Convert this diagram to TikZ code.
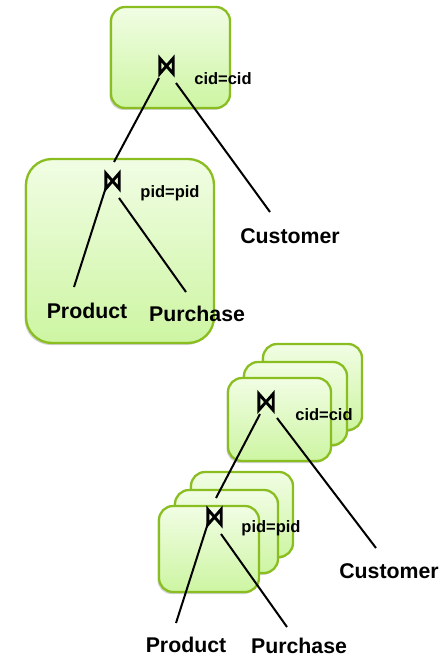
\documentclass[tikz,border=0pt]{standalone}
\usepackage{fontspec}
\setmainfont{Liberation Sans}
\usetikzlibrary{shadows}
\definecolor{boxborder}{RGB}{138,190,32}
\definecolor{boxtop}{RGB}{241,253,228}
\definecolor{boxbottom}{RGB}{205,245,162}
\tikzset{
  box/.style={draw=boxborder, line width=2.3pt, rounded corners=14pt,
    top color=boxtop, bottom color=boxbottom,
    drop shadow={shadow xshift=-1.5pt, shadow yshift=-2pt, opacity=0.18, fill=black}},
  bigbox/.style={box, rounded corners=26pt},
  jn/.style={inner sep=0pt, minimum width=13pt, minimum height=15pt},
  bowtie/.style={line width=2.9pt, line join=miter, black},
  rel/.style={font=\bfseries\fontsize{21.3}{25}\selectfont, inner sep=0pt},
  cond/.style={font=\bfseries\fontsize{16.5}{19}\selectfont, inner sep=0pt},
  edge/.style={line width=2pt, black}
}
\newcommand{\drawjoin}[1]{\draw[bowtie] (#1.north west) -- (#1.south west) -- (#1.north east) -- (#1.south east) -- cycle;}
\begin{document}
\begin{tikzpicture}[x=1pt,y=-1pt]
\useasboundingbox (0,0) rectangle (447,658);
% plan 1
\path[box] (111,7) rectangle (230,108);
\path[bigbox] (26,159) rectangle (214,343);
% plan 2 stacks
\path[box] (263,344) rectangle (362,430);
\path[box] (244,362) rectangle (347,445);
\path[box] (228,378) rectangle (331,461);
\path[box] (191,472) rectangle (293,557);
\path[box] (175,490) rectangle (278,573);
\path[box] (159,506) rectangle (259,592);

% plan 1 nodes
\node[jn] (j1) at (166.5,66) {};
\node[jn] (j2) at (112.5,181) {};
\node[cond] (c1) at (223,79) {cid=cid};
\node[cond] (c2) at (170,193) {pid=pid};
\node[rel] (cust1) at (290,236) {Customer};
\node[rel] (prod1) at (87,311) {Product};
\node[rel] (purc1) at (197,314) {Purchase};
% plan 2 nodes
\node[jn, minimum width=14pt, minimum height=16pt] (j3) at (266,402) {};
\node[jn] (j4) at (214.5,517) {};
\node[cond] (c3) at (324,415) {cid=cid};
\node[cond] (c4) at (271,528) {pid=pid};
\node[rel] (cust2) at (389,571) {Customer};
\node[rel] (prod2) at (186,645) {Product};
\node[rel] (purc2) at (299,646) {Purchase};

% edge endpoints
\coordinate (e1a) at (159,78);  \coordinate (e1b) at (114,162);
\coordinate (e2a) at (176,83);  \coordinate (e2b) at (270,212);
\coordinate (e3a) at (106,187); \coordinate (e3b) at (74,287);
\coordinate (e4a) at (119,198); \coordinate (e4b) at (186,292);
\coordinate (e5a) at (260,414); \coordinate (e5b) at (216,498);
\coordinate (e6a) at (277,418); \coordinate (e6b) at (376,548);
\coordinate (e7a) at (208,523); \coordinate (e7b) at (176,623);
\coordinate (e8a) at (221,534); \coordinate (e8b) at (287,627);
\foreach \a/\b in {e1a/e1b,e2a/e2b,e3a/e3b,e4a/e4b,e5a/e5b,e6a/e6b,e7a/e7b,e8a/e8b}
  \draw[edge] (\a) -- (\b);

\drawjoin{j1}
\drawjoin{j2}
\drawjoin{j3}
\drawjoin{j4}
\end{tikzpicture}
\end{document}
